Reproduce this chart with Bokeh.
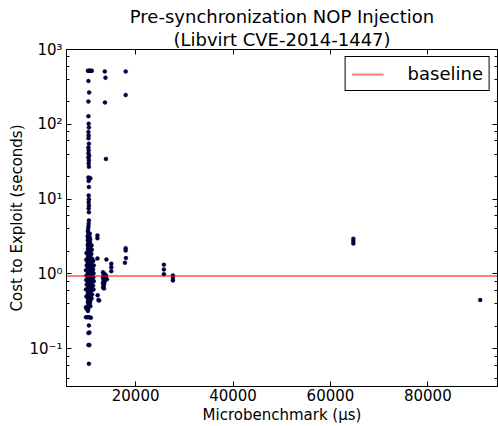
from bokeh.plotting import figure
from bokeh.models import (Range1d, FixedTicker, LinearAxis, LogAxis, LogTicker, Title,
                          CustomJSTickFormatter)
from bokeh.embed import file_html
from bokeh.resources import INLINE

# ---------------- data ----------------
X_MIN, X_MAX = 5800, 94300
Y_MIN, Y_MAX = 0.0313, 1000
X_TICKS = [20000, 40000, 60000, 80000]
BASELINE = 0.94
TITLE_LINES = ["Pre-synchronization NOP Injection", "(Libvirt CVE-2014-1447)"]

# sparse upper part of the main column near 10 000 us
upper_x = [10200, 10400, 10600, 10800, 11000, 10300, 10450, 10300, 10300, 10350,
           10400, 10300, 10350, 10300, 10400, 10300, 10350, 10300, 10450, 10300,
           10400, 10350, 10400, 10300, 10500, 10700, 10350, 10400, 10350, 10400,
           10350, 10400, 10350, 10400, 10400, 10350]
upper_y = [520, 520, 520, 520, 520, 380, 267, 202, 128, 102,
           91, 79, 71, 65, 55, 49, 45, 41, 38, 36,
           33, 30, 27, 19.5, 18.5, 19, 17.5, 14.5, 11.2, 10,
           9.1, 8.2, 7.5, 6.7, 5.2, 4.7]

# dense part of the main column
dense_a_x = [10300, 10250, 10200, 10300, 10150, 10250, 10200, 10300, 10150, 10250,
             10200, 10300, 10150, 10250, 10200, 10300, 10150, 10250, 10200, 10300,
             10150, 10250, 10200, 10300, 10150, 10250, 10200, 10300, 10150, 10250,
             10200, 10300, 10150, 10250, 10200, 10300, 10150, 10250, 10200]
dense_a_y = [4.3, 4.0, 3.7, 3.45, 3.2, 3.0, 2.8, 2.6, 2.45, 2.3,
             2.15, 2.0, 1.87, 1.75, 1.63, 1.52, 1.42, 1.33, 1.24, 1.16,
             1.08, 1.0, 0.94, 0.88, 0.82, 0.77, 0.72, 0.67, 0.63, 0.59,
             0.55, 0.51, 0.48, 0.45, 0.42, 0.39, 0.36, 0.34, 0.32]
dense_b_x = [10600, 10550, 10650, 10600, 10700, 10550, 10650, 10600, 10700, 10550,
             10650, 10600, 10700, 10550, 10650, 10600, 10700, 10550, 10650, 10600,
             10700, 10550, 10650, 10600, 10700, 10550, 10650, 10600, 10700, 10550,
             10650, 10600, 10700]
dense_b_y = [3.45, 3.1, 2.9, 2.7, 2.5, 2.35, 2.2, 2.05, 1.92, 1.8,
             1.68, 1.57, 1.47, 1.37, 1.28, 1.2, 1.12, 1.04, 0.97, 0.91,
             0.85, 0.79, 0.74, 0.69, 0.65, 0.61, 0.57, 0.53, 0.5, 0.46,
             0.43, 0.4, 0.37]
dense_c_x = [10950, 11000, 10900, 11050, 10950, 11100, 11000, 10900, 11050, 10950,
             11000, 10900, 11050, 10950, 9900, 9850, 9950, 9800, 9900, 9850,
             9950, 9800, 9900, 9800, 9950]
dense_c_y = [2.4, 2.1, 1.85, 1.6, 1.4, 1.25, 1.1, 0.98, 0.86, 0.76,
             0.68, 0.6, 0.53, 0.47, 1.9, 1.55, 1.3, 1.12, 0.95, 0.83,
             0.72, 0.62, 0.5, 0.36, 0.34]
dense_d_x = [11300, 11400, 11250, 11350, 11300, 11400, 11250, 11350]
dense_d_y = [1.5, 1.3, 1.15, 1.02, 0.9, 0.8, 0.7, 0.62]

# sparse lower part of the main column
lower_x = [9800, 10150, 10500, 10800, 10400, 10300, 10500, 10300, 10500, 10400]
lower_y = [0.264, 0.264, 0.264, 0.26, 0.205, 0.162, 0.165, 0.112, 0.112, 0.063]

# cluster around 13 500 us
c135_x = [13300, 13500, 13700, 13400, 13600, 13800, 13300, 13500, 13700, 13400,
          13600, 13300, 13500, 13400, 13300, 13500, 13900, 14100]
c135_y = [1.05, 1.0, 0.98, 0.95, 0.92, 0.9, 0.88, 0.85, 0.83, 0.8,
          0.78, 0.75, 0.72, 0.69, 0.66, 0.64, 0.95, 0.85]

# remaining scattered points
side_x = [12150, 12150, 12150, 12200, 12350, 12500,
          13650, 13800, 13700, 13900, 14000,
          15000, 15000, 15000,
          17950, 17950, 17950, 17950, 18000, 17800,
          25800, 25800, 25800,
          27650, 27650, 27650,
          64700, 64700, 64700,
          90750]
side_y = [3.27, 3.0, 1.61, 0.52, 0.45, 0.44,
          510, 420, 196, 34.5, 1.56,
          1.37, 1.23, 1.09,
          510, 246, 2.2, 2.05, 1.63, 1.41,
          1.33, 1.15, 0.99,
          0.955, 0.88, 0.82,
          2.95, 2.75, 2.55,
          0.447]

groups = [(upper_x, upper_y), (dense_a_x, dense_a_y), (dense_b_x, dense_b_y),
          (dense_c_x, dense_c_y), (dense_d_x, dense_d_y), (lower_x, lower_y),
          (c135_x, c135_y), (side_x, side_y)]

FONT = "DejaVu Sans"

p = figure(width=498, height=426, y_axis_type="log", title_location=None,
           x_range=Range1d(X_MIN, X_MAX), y_range=Range1d(Y_MIN, Y_MAX),
           output_backend="svg", toolbar_location=None,
           min_border_left=66, min_border_right=1, min_border_top=49,
           min_border_bottom=40)

p.grid.visible = False
p.outline_line_color = "black"
p.outline_line_alpha = 1
p.outline_line_width = 1
p.background_fill_color = "white"
p.border_fill_color = "white"

sup_code = """
const e = Math.round(Math.log10(tick));
const sup = {'-':'\u207b','0':'\u2070','1':'\u00b9','2':'\u00b2','3':'\u00b3',
             '4':'\u2074','5':'\u2075','6':'\u2076','7':'\u2077','8':'\u2078','9':'\u2079'};
return '10' + String(e).split('').map(c => sup[c]).join('');
"""

xa = p.xaxis[0]
xa.ticker = FixedTicker(ticks=X_TICKS)
xa.axis_label = "Microbenchmark (\u03bcs)"
ya = p.yaxis[0]
ya.ticker = LogTicker()
ya.formatter = CustomJSTickFormatter(code=sup_code)
ya.axis_label = "Cost to Exploit (seconds)"

for ax in (xa, ya):
    ax.major_label_text_font = FONT
    ax.major_label_text_font_size = "15px"
    ax.major_label_text_color = "black"
    ax.axis_label_text_font = FONT
    ax.axis_label_text_font_size = "15px"
    ax.axis_label_text_font_style = "normal"
    ax.axis_label_text_color = "black"
    ax.axis_line_color = "black"
    ax.major_tick_in = 5
    ax.major_tick_out = 0
    ax.minor_tick_in = 3
    ax.minor_tick_out = 0
    ax.major_tick_line_color = "black"
    ax.minor_tick_line_color = "black"
xa.major_label_standoff = 2
xa.axis_label_standoff = 2
ya.major_label_standoff = 4
ya.axis_label_standoff = 0

blank = CustomJSTickFormatter(code="return '';")
top = LinearAxis(ticker=FixedTicker(ticks=X_TICKS), formatter=blank,
                 major_tick_in=5, major_tick_out=0, minor_tick_in=0, minor_tick_out=0,
                 major_label_standoff=0, axis_line_color="black",
                 major_label_text_font_size="0px")
right = LogAxis(ticker=LogTicker(), formatter=blank,
                major_tick_in=5, major_tick_out=0, minor_tick_in=3, minor_tick_out=0,
                major_label_standoff=0, axis_line_color="black",
                major_label_text_font_size="0px")
p.add_layout(top, "above")
p.add_layout(right, "right")

# title: second line nearest the plot, first line above it
for line in reversed(TITLE_LINES):
    p.add_layout(Title(text=line, align="center", text_font=FONT, text_font_size="18px",
                       text_font_style="normal", text_color="black",
                       standoff=0, offset=0), "above")

for gx, gy in groups:
    p.scatter(gx, gy, size=4, fill_color="#00004a", line_color="#000020",
              line_width=0.4)

p.line([X_MIN, X_MAX], [BASELINE, BASELINE], line_color="red", line_alpha=0.5,
       line_width=2, legend_label="baseline")

lg = p.legend[0]
lg.location = "top_right"
lg.label_text_font = FONT
lg.label_text_font_size = "18px"
lg.label_text_color = "black"
lg.border_line_color = "black"
lg.border_line_alpha = 1
lg.border_line_width = 1
lg.background_fill_alpha = 1
lg.padding = 6
lg.margin = 7
lg.glyph_width = 32
lg.label_standoff = 24
lg.spacing = 0

open("out.html", "w", encoding="utf-8").write(file_html(p, INLINE))
